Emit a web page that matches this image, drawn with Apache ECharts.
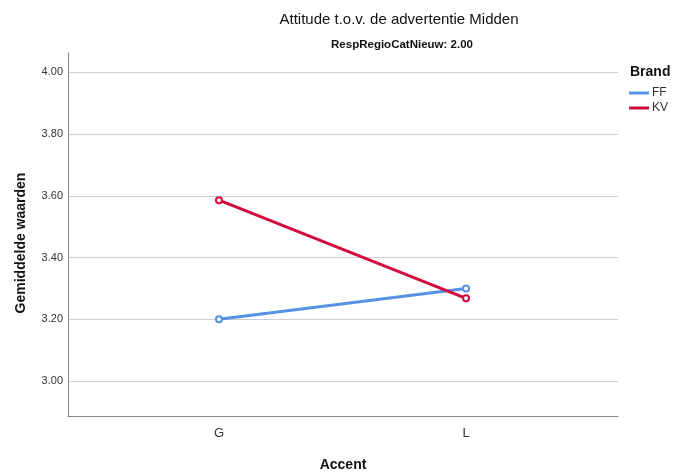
<!DOCTYPE html>
<html><head><meta charset="utf-8">
<script src="https://cdn.jsdelivr.net/npm/echarts@6/dist/echarts.min.js"></script>
<style>html,body{margin:0;padding:0;background:#fff}#c{width:688px;height:472px}</style>
</head><body><div id="c"></div>
<script>
const categories = ['G', 'L'];
const seriesNames = ['FF', 'KV'];
const ffValues = [3.20, 3.30];
const kvValues = [3.586, 3.268];
const yTicks = [3.00, 3.20, 3.40, 3.60, 3.80, 4.00];

const chart = echarts.init(document.getElementById('c'));
const font = 'Liberation Sans, Arial, sans-serif';
const toPts = vals => vals.map((v, i) => [i, v]);
chart.setOption({
  animation: false,
  textStyle: { fontFamily: font },
  title: [
    { text: 'Attitude t.o.v. de advertentie Midden', left: 394, top: 7, textAlign: 'center',
      textStyle: { fontSize: 15, fontWeight: 'normal', color: '#111', fontFamily: font } },
    { text: 'RespRegioCatNieuw: 2.00', left: 397, top: 34, textAlign: 'center',
      textStyle: { fontSize: 11.5, fontWeight: 'bold', color: '#111', fontFamily: font } },
    { text: 'Brand', left: 625, top: 60,
      textStyle: { fontSize: 14, fontWeight: 'bold', color: '#111', fontFamily: font } }
  ],
  graphic: [{
    type: 'text', x: 21, y: 243, rotation: Math.PI / 2,
    style: { text: 'Gemiddelde waarden', fontSize: 14, fontWeight: 'bold', fill: '#111',
      fontFamily: font, align: 'center', verticalAlign: 'middle' }
  }],
  legend: {
    orient: 'vertical', left: 624, top: 82, itemGap: 3,
    icon: 'rect', itemWidth: 20, itemHeight: 3,
    textStyle: { fontSize: 12, color: '#333', fontFamily: font, padding: [0, 0, 0, -2] },
    data: seriesNames
  },
  grid: { left: 68, top: 53, right: 70, bottom: 56, outerBoundsMode: 'none', containLabel: false },
  xAxis: {
    type: 'value', min: -0.611, max: 1.615,
    name: 'Accent', nameLocation: 'middle', nameGap: 42,
    nameTextStyle: { fontSize: 14, fontWeight: 'bold', color: '#111', fontFamily: font },
    axisLine: { show: true, onZero: false, lineStyle: { color: '#888', width: 1 } },
    axisTick: { show: false, customValues: [0, 1] },
    axisLabel: { customValues: [0, 1], formatter: v => categories[Math.round(v)], fontSize: 13, color: '#333', margin: 11 },
    splitLine: { show: false }
  },
  yAxis: {
    type: 'value', min: 2.887, max: 4.0625,
    axisLine: { show: true, onZero: false, lineStyle: { color: '#888', width: 1 } },
    axisTick: { show: false, customValues: yTicks },
    axisLabel: { customValues: yTicks, formatter: v => v.toFixed(2), fontSize: 11, color: '#333', margin: 5 },
    splitLine: { show: true, lineStyle: { color: '#cfcfcf', width: 1 } }
  },
  series: [
    { name: 'FF', type: 'line', data: toPts(ffValues), color: '#5592e3',
      symbol: 'emptyCircle', symbolSize: 6, lineStyle: { width: 3 },
      itemStyle: { borderWidth: 1 } },
    { name: 'KV', type: 'line', data: toPts(kvValues), color: '#d10c3d',
      symbol: 'emptyCircle', symbolSize: 6, lineStyle: { width: 3 },
      itemStyle: { borderWidth: 1 } }
  ]
});
</script></body></html>
